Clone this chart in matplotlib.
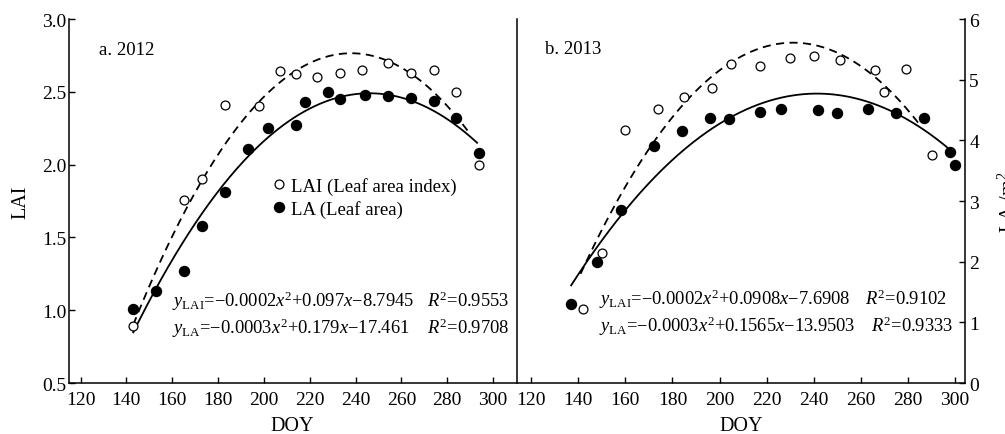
import numpy as np
import matplotlib
matplotlib.use("Agg")
import matplotlib.pyplot as plt
from matplotlib.lines import Line2D

plt.rcParams["font.family"] = ["Liberation Serif", "DejaVu Serif"]
plt.rcParams["mathtext.fontset"] = "custom"
plt.rcParams["mathtext.rm"] = "Liberation Serif"
plt.rcParams["mathtext.it"] = "Liberation Serif:italic"

# panel a (2012)
doy_lai_2012 = [143, 165, 173, 183, 198, 207, 214, 223, 233, 243, 254, 264, 274, 284, 294]
lai_2012 = [0.89, 1.76, 1.90, 2.41, 2.40, 2.64, 2.62, 2.60, 2.63, 2.65, 2.70, 2.63, 2.65, 2.50, 2.00]
doy_la_2012 = [143, 153, 165, 173, 183, 193, 202, 214, 218, 228, 233, 244, 254, 264, 274, 284, 294]
la_2012 = [1.01, 1.13, 1.27, 1.58, 1.81, 2.11, 2.25, 2.27, 2.43, 2.50, 2.45, 2.48, 2.47, 2.46, 2.44, 2.32, 2.08]

# panel b (2013)
doy_lai_2013 = [142, 150, 160, 174, 185, 197, 205, 217, 230, 240, 251, 266, 270, 279, 290]
lai_2013 = [1.22, 2.14, 4.17, 4.52, 4.71, 4.86, 5.26, 5.23, 5.36, 5.39, 5.33, 5.16, 4.80, 5.17, 3.76]
doy_la_2013 = [137, 148, 158, 172, 184, 196, 204, 217, 226, 242, 250, 263, 275, 287, 298, 300]
la_2013 = [1.30, 1.99, 2.86, 3.91, 4.15, 4.37, 4.35, 4.46, 4.51, 4.50, 4.45, 4.51, 4.45, 4.37, 3.81, 3.60]

# points (start, top, end)
fit_lai_2012 = ([143, 238, 289], [0.90, 2.765, 2.23])
fit_la_2012 = ([143, 246, 293], [0.848, 2.49, 2.15])
fit_lai_2013 = ([141, 231.4, 285.5], [1.80, 5.61, 4.23])
fit_la_2013 = ([137, 240, 298], [1.61, 4.77, 3.84])

eq_2012 = [r"$y_{\rm LAI}$=−0.0002$x^2$+0.097$x$−8.7945",
           r"$y_{\rm LA}$=−0.0003$x^2$+0.179$x$−17.461"]
r2_2012 = [r"$R^2$=0.9553", r"$R^2$=0.9708"]
eq_2013 = [r"$y_{\rm LAI}$=−0.0002$x^2$+0.0908$x$−7.6908",
           r"$y_{\rm LA}$=−0.0003$x^2$+0.1565$x$−13.9503"]
r2_2013 = [r"$R^2$=0.9102", r"$R^2$=0.9333"]


def curve(ax, pts, ls):
    c = np.polyfit(pts[0], pts[1], 2)
    xs = np.linspace(pts[0][0], pts[0][-1], 200)
    ax.plot(xs, np.polyval(c, xs), color="black", lw=1.3, linestyle=ls)


def style(ax):
    for s in ax.spines.values():
        s.set_linewidth(1.1)
    ax.spines["top"].set_visible(False)
    ax.tick_params(direction="in", length=4.5, width=1.0, labelsize=14)
    ax.tick_params(axis="x", pad=5.5)
    ax.tick_params(axis="y", pad=2)
    ax.set_xlabel("DOY", fontsize=14.5, labelpad=6)


fig = plt.figure(figsize=(10.05, 4.35), dpi=100)
ax1 = fig.add_axes([0.0687, 0.1172, 0.4448, 0.8368])
ax2 = fig.add_axes([0.5144, 0.1172, 0.4458, 0.8368])

dash = (0, (4.5, 3))
open_kw = dict(marker="o", ls="none", ms=6.4, mfc="white", mec="black", mew=0.9)
fill_kw = dict(marker="o", ls="none", ms=7.2, mfc="black", mec="black")

# panel a
curve(ax1, fit_lai_2012, dash)
curve(ax1, fit_la_2012, "-")
ax1.plot(doy_lai_2012, lai_2012, **open_kw)
ax1.plot(doy_la_2012, la_2012, **fill_kw)
ax1.set_xlim(115, 310)
ax1.set_ylim(0.5, 3.0)
ax1.set_xticks(range(120, 301, 20))
ax1.set_yticks([0.5, 1.0, 1.5, 2.0, 2.5, 3.0])
ax1.set_yticklabels([f"{v:.1f}" for v in [0.5, 1.0, 1.5, 2.0, 2.5, 3.0]])
ax1.set_ylabel("LAI", fontsize=14.5, labelpad=8)
style(ax1)
ax1.spines["right"].set_visible(False)
ax1.tick_params(axis="y", right=False)
ax1.text(128, 2.79, "a. 2012", fontsize=13.5, va="center")
for i, (e, r) in enumerate(zip(eq_2012, r2_2012)):
    y = 1.065 - i * 0.18
    ax1.text(160, y, e, fontsize=13.3, va="center")
    ax1.text(271, y, r, fontsize=13.3, va="center")

handles = [Line2D([], [], **open_kw), Line2D([], [], **fill_kw)]
ax1.legend(handles, ["LAI (Leaf area index)", "LA (Leaf area)"],
           loc="center left", bbox_to_anchor=(0.455, 0.51), frameon=False,
           fontsize=13.5, handlelength=0.7, handletextpad=0.3,
           labelspacing=0.25, borderpad=0, borderaxespad=0)

# panel b
curve(ax2, fit_lai_2013, dash)
curve(ax2, fit_la_2013, "-")
ax2.plot(doy_lai_2013, lai_2013, **open_kw)
ax2.plot(doy_la_2013, la_2013, **fill_kw)
ax2.set_xlim(114, 304.2)
ax2.set_ylim(0, 6)
ax2.set_xticks(range(120, 301, 20))
ax2.set_yticks(range(0, 7))
ax2.yaxis.tick_right()
ax2.yaxis.set_label_position("right")
ax2.set_ylabel("LA /m$^2$", fontsize=14.5, labelpad=14, rotation=90)
style(ax2)
ax2.tick_params(axis="y", left=False, pad=3)
ax2.text(126, 5.52, "b. 2013", fontsize=13.5, va="center")
r2_x = [261.8, 264.3]
for i, (e, r) in enumerate(zip(eq_2013, r2_2013)):
    y = 1.39 - i * 0.44
    ax2.text(149, y, e, fontsize=13.3, va="center")
    ax2.text(r2_x[i], y, r, fontsize=13.3, va="center")

fig.savefig("out.png", dpi=100)
